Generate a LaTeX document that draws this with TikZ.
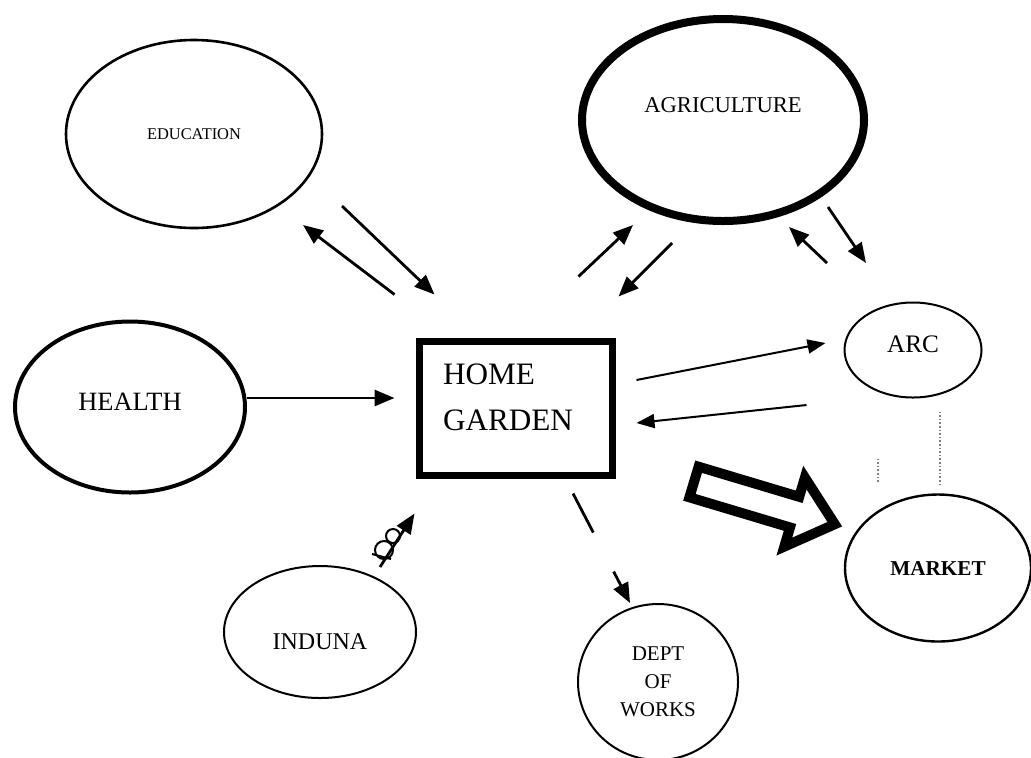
\documentclass[tikz,border=0pt]{standalone}
\usepackage{fontspec}
\setmainfont{Liberation Serif}
\usetikzlibrary{shapes.geometric,arrows.meta}

\begin{document}
\begin{tikzpicture}[x=0.5pt,y=-0.5pt,
  blob/.style={ellipse,draw,inner sep=0pt,line width=1pt},
  arr/.style={-{Triangle[length=10pt,width=8pt]},line width=1.4pt},
  thinarr/.style={-{Triangle[length=9pt,width=7pt]},line width=1pt}]
\useasboundingbox (0,0) rectangle (1031,757);
% the ovals
\node[blob,line width=1.3pt,minimum width=128pt,minimum height=94pt,
      font=\fontsize{8.2}{10}\selectfont] (edu) at (194,134) {EDUCATION};
\node[blob,line width=4pt,minimum width=141pt,minimum height=101pt,
      text height=7.5pt,text depth=15pt,
      font=\fontsize{11.3}{13}\selectfont] (agri) at (723,120) {AGRICULTURE};
\node[blob,line width=2pt,minimum width=115pt,minimum height=85.5pt,
      text depth=5pt,font=\fontsize{13.2}{15}\selectfont] (health) at (130,407) {HEALTH};
\node[blob,minimum width=68.5pt,minimum height=47.5pt,
      text height=8.3pt,text depth=6pt,
      font=\fontsize{12.6}{14}\selectfont] (arc) at (913,350) {ARC};
\node[blob,line width=1.2pt,minimum width=93pt,minimum height=73.5pt,
      font=\fontsize{10.6}{12}\selectfont\bfseries] (market) at (938,568) {MARKET};
\node[blob,minimum width=96pt,minimum height=66pt,
      text height=17.9pt,text depth=0pt,
      font=\fontsize{12}{14}\selectfont] (induna) at (320,632) {INDUNA};
\node[blob,minimum width=80pt,minimum height=78pt,align=center,
      font=\fontsize{10.5}{14}\selectfont] (works) at (658,682) {DEPT\\OF\\WORKS};
% the box in the middle
\node[draw,line width=3.5pt,minimum height=67pt,inner xsep=12pt,
      text width=72.5pt,align=left,
      font=\fontsize{15.6}{23}\selectfont] (home) at (515.5,408)
      {HOME\\GARDEN\rule[-11pt]{0pt}{0pt}};
% education
\draw[arr] ([shift={(-21,-43)}]home.north west) -- ([shift={(109,91)}]edu.center);
\draw[arr] ([shift={(148,72)}]edu.center) -- ([shift={(19,-43)}]home.north west);
% agriculture
\draw[arr] ([shift={(-37,-61)}]home.north east) -- ([shift={(-90,105)}]agri.center);
\draw[arr] ([shift={(-51,123)}]agri.center) -- ([shift={(3,-41)}]home.north east);
\draw[arr] ([shift={(-86,-87)}]arc.center) -- ([shift={(66,107)}]agri.center);
\draw[arr] ([shift={(105,87)}]agri.center) -- ([shift={(-47,-87)}]arc.center);
% health
\draw[arr] ([shift={(0,-9)}]health.east) -- ([shift={(-21,-10)}]home.west);
% arc
\draw[thinarr] ([shift={(21,-28)}]home.east) -- ([shift={(-18,-7)}]arc.west);
\draw[thinarr] ([shift={(-37,55)}]arc.west) -- ([shift={(21,15)}]home.east);
% dept of works
\draw[arr,dash pattern=on 22pt off 22pt] ([shift={(57.5,15)}]home.south)
      -- ([shift={(-28,-79)}]works.center);
% induna, with its scribble
\draw[arr] ([shift={(60,-65)}]induna.center) -- ([shift={(-1,35)}]home.south west);
\draw[line width=1pt] (384,550) circle[radius=4.5pt] (393,536) circle[radius=3.5pt]
      (372,554) -- (391,559);
% market
\draw[line width=5pt] (698.6,466.7) -- (799.2,496.8) -- (804.9,477.6) -- (834.8,524.2)
      -- (784.3,546.6) -- (790.0,527.4) -- (689.4,497.3) -- cycle;
\draw[densely dotted,gray,line width=0.8pt] ([shift={(27,13)}]arc.south)
      -- ([shift={(2,-9)}]market.north);
\draw[densely dotted,gray,line width=0.8pt] ([shift={(-35,60)}]arc.south) -- ++(0,25);
\end{tikzpicture}
\end{document}
